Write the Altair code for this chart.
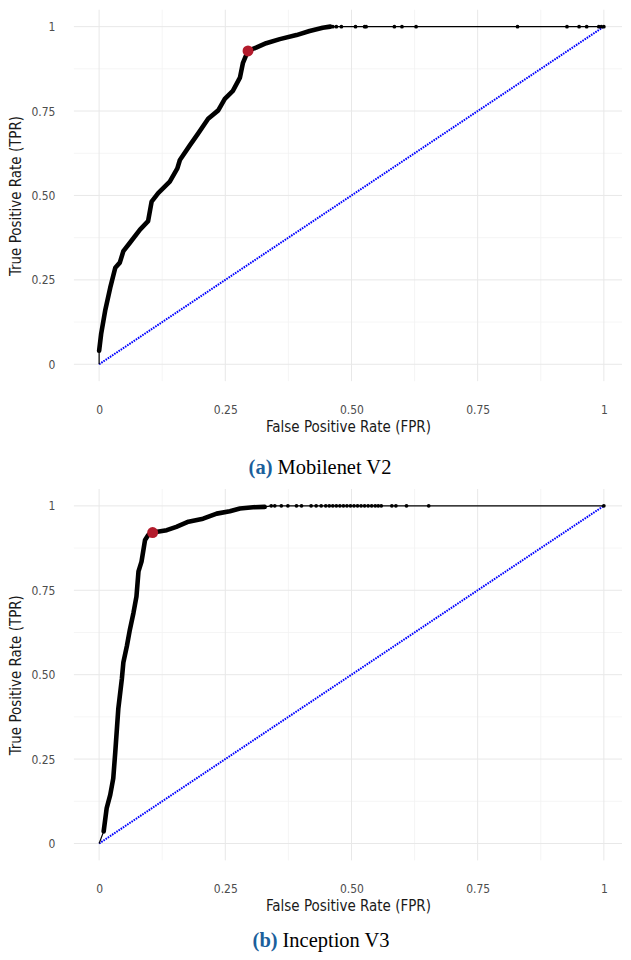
import altair as alt
import pandas as pd

# ---------------- data ----------------
TICKS = [0, 0.25, 0.5, 0.75, 1]
MINOR = [0.125, 0.375, 0.625, 0.875]
DIAG = [0, 1]

# (a) Mobilenet V2
fpr_a = [0, 0, 0.004, 0.012, 0.022, 0.032, 0.041, 0.048, 0.061, 0.081, 0.097,
         0.104, 0.117, 0.140, 0.155, 0.160, 0.180, 0.196, 0.216, 0.236, 0.249,
         0.265, 0.279, 0.285, 0.292, 0.296, 0.311, 0.331, 0.358, 0.391, 0.417,
         0.443, 0.458]
tpr_a = [0, 0.04, 0.09, 0.159, 0.227, 0.286, 0.301, 0.335, 0.36, 0.399, 0.424,
         0.482, 0.507, 0.541, 0.580, 0.605, 0.649, 0.683, 0.727, 0.752, 0.786,
         0.810, 0.849, 0.893, 0.918, 0.929, 0.938, 0.951, 0.963, 0.975, 0.987,
         0.997, 1.0]
sparse_fpr_a = [0.463, 0.470, 0.480, 0.508, 0.526, 0.529, 0.585, 0.600, 0.628,
                0.829, 0.927, 0.951, 0.966, 0.990, 0.995, 1.0]
best_a = (0.295, 0.928)

# (b) Inception V3
fpr_b = [0, 0.009, 0.015, 0.022, 0.028, 0.032, 0.038, 0.045, 0.048, 0.055,
         0.061, 0.068, 0.074, 0.078, 0.084, 0.091, 0.097, 0.106, 0.134, 0.153,
         0.177, 0.206, 0.233, 0.259, 0.279, 0.305, 0.328]
tpr_b = [0, 0.036, 0.105, 0.144, 0.193, 0.271, 0.399, 0.487, 0.536, 0.585,
         0.634, 0.683, 0.732, 0.806, 0.835, 0.899, 0.913, 0.921, 0.928, 0.938,
         0.953, 0.962, 0.977, 0.984, 0.992, 0.996, 0.997]
sparse_fpr_b = [0.341, 0.348, 0.361, 0.374, 0.391, 0.401, 0.420, 0.430, 0.440,
                0.449, 0.456, 0.463, 0.470, 0.477, 0.484, 0.491, 0.498, 0.505,
                0.512, 0.519, 0.526, 0.533, 0.540, 0.547, 0.553, 0.559, 0.580,
                0.588, 0.609, 0.653, 1.0]
best_b = (0.106, 0.921)

captions = [("(a)", "Mobilenet V2"), ("(b)", "Inception V3")]

X_TITLE = "False Positive Rate (FPR)"
Y_TITLE = "True Positive Rate (TPR)"

# ---------------- styling ----------------
W, H = 549, 372
SANS = "DejaVu Sans Condensed, DejaVu Sans"
LABEL_EXPR = "datum.value == 0 ? '0' : datum.value == 1 ? '1' : format(datum.value, '.2f')"

xscale = alt.Scale(domain=[-0.05, 1.036], nice=False, zero=False)
yscale = alt.Scale(domain=[-0.05, 1.05], nice=False, zero=False)

xaxis = alt.Axis(values=TICKS, labelExpr=LABEL_EXPR, grid=False, ticks=False,
                 domain=False, labelPadding=23, titlePadding=4, title=X_TITLE)
yaxis = alt.Axis(values=TICKS, labelExpr=LABEL_EXPR, grid=False, ticks=False,
                 domain=False, labelPadding=19, titlePadding=7, title=Y_TITLE)


def X(field):
    return alt.X(field, type="quantitative", scale=xscale, axis=xaxis)


def Y(field):
    return alt.Y(field, type="quantitative", scale=yscale, axis=yaxis)


def panel(fpr, tpr, sparse, best, cap, tag_x, name_x, cap_y):
    n = len(fpr)
    all_df = pd.DataFrame({
        "fpr": fpr + sparse,
        "tpr": tpr + [1.0] * len(sparse),
        "i": list(range(n + len(sparse))),
    })
    dense_df = pd.DataFrame({"fpr": fpr[1:], "tpr": tpr[1:], "i": list(range(n - 1))})
    sparse_df = pd.DataFrame({"fpr": sparse, "tpr": [1.0] * len(sparse)})
    diag_df = pd.DataFrame({"fpr": DIAG, "tpr": DIAG})
    best_df = pd.DataFrame({"fpr": [best[0]], "tpr": [best[1]]})
    major_df = pd.DataFrame({"v": TICKS})
    minor_df = pd.DataFrame({"v": MINOR})

    vminor = alt.Chart(minor_df).mark_rule(color="#F3F3F3", strokeWidth=0.8).encode(x=X("v"))
    hminor = alt.Chart(minor_df).mark_rule(color="#F3F3F3", strokeWidth=0.8).encode(y=Y("v"))
    vmajor = alt.Chart(major_df).mark_rule(color="#E8E8E8", strokeWidth=1).encode(x=X("v"))
    hmajor = alt.Chart(major_df).mark_rule(color="#E8E8E8", strokeWidth=1).encode(y=Y("v"))

    thin = alt.Chart(all_df).mark_line(color="black", strokeWidth=1.2).encode(
        x=X("fpr"), y=Y("tpr"), order=alt.Order("i:Q"))
    thick = alt.Chart(dense_df).mark_line(color="black", strokeWidth=4.6,
                                          strokeCap="round", strokeJoin="round").encode(
        x=X("fpr"), y=Y("tpr"), order=alt.Order("i:Q"))
    dots = alt.Chart(sparse_df).mark_point(filled=True, color="black", size=14, opacity=1).encode(
        x=X("fpr"), y=Y("tpr"))
    diag = alt.Chart(diag_df).mark_line(color="#0000FF", strokeWidth=2,
                                        strokeDash=[1.6, 1.0]).encode(x=X("fpr"), y=Y("tpr"))
    red = alt.Chart(best_df).mark_point(filled=True, color="#B31B2C", size=120, opacity=1).encode(
        x=X("fpr"), y=Y("tpr"))

    tag = alt.Chart(pd.DataFrame({"t": [cap[0]]})).mark_text(
        font="Liberation Serif", fontSize=20.5, fontWeight="bold", color="#1B5F9C",
        align="left", baseline="alphabetic").encode(
        text="t:N", x=alt.value(tag_x), y=alt.value(cap_y))
    name = alt.Chart(pd.DataFrame({"t": [cap[1]]})).mark_text(
        font="Liberation Serif", fontSize=20.5, color="black",
        align="left", baseline="alphabetic").encode(
        text="t:N", x=alt.value(name_x), y=alt.value(cap_y))

    return alt.layer(vminor, hminor, vmajor, hmajor, diag, thin, thick, dots, red,
                     tag, name).properties(width=W, height=H)


top = panel(fpr_a, tpr_a, sparse_fpr_a, best_a, captions[0], 175, 204, 465)
bottom = panel(fpr_b, tpr_b, sparse_fpr_b, best_b, captions[1], 179, 209, 459)

chart = alt.vconcat(top, bottom, spacing=9).properties(
    padding={"left": 0, "top": 0, "right": 0, "bottom": 0}
).configure_view(stroke=None).configure_axis(
    labelFont=SANS, labelFontSize=12, labelColor="#4D4D4D",
    titleFont=SANS, titleFontSize=15, titleColor="#1A1A1A", titleFontWeight="normal",
)

chart.save("out.html", embed_options={"renderer": "svg", "actions": False})
